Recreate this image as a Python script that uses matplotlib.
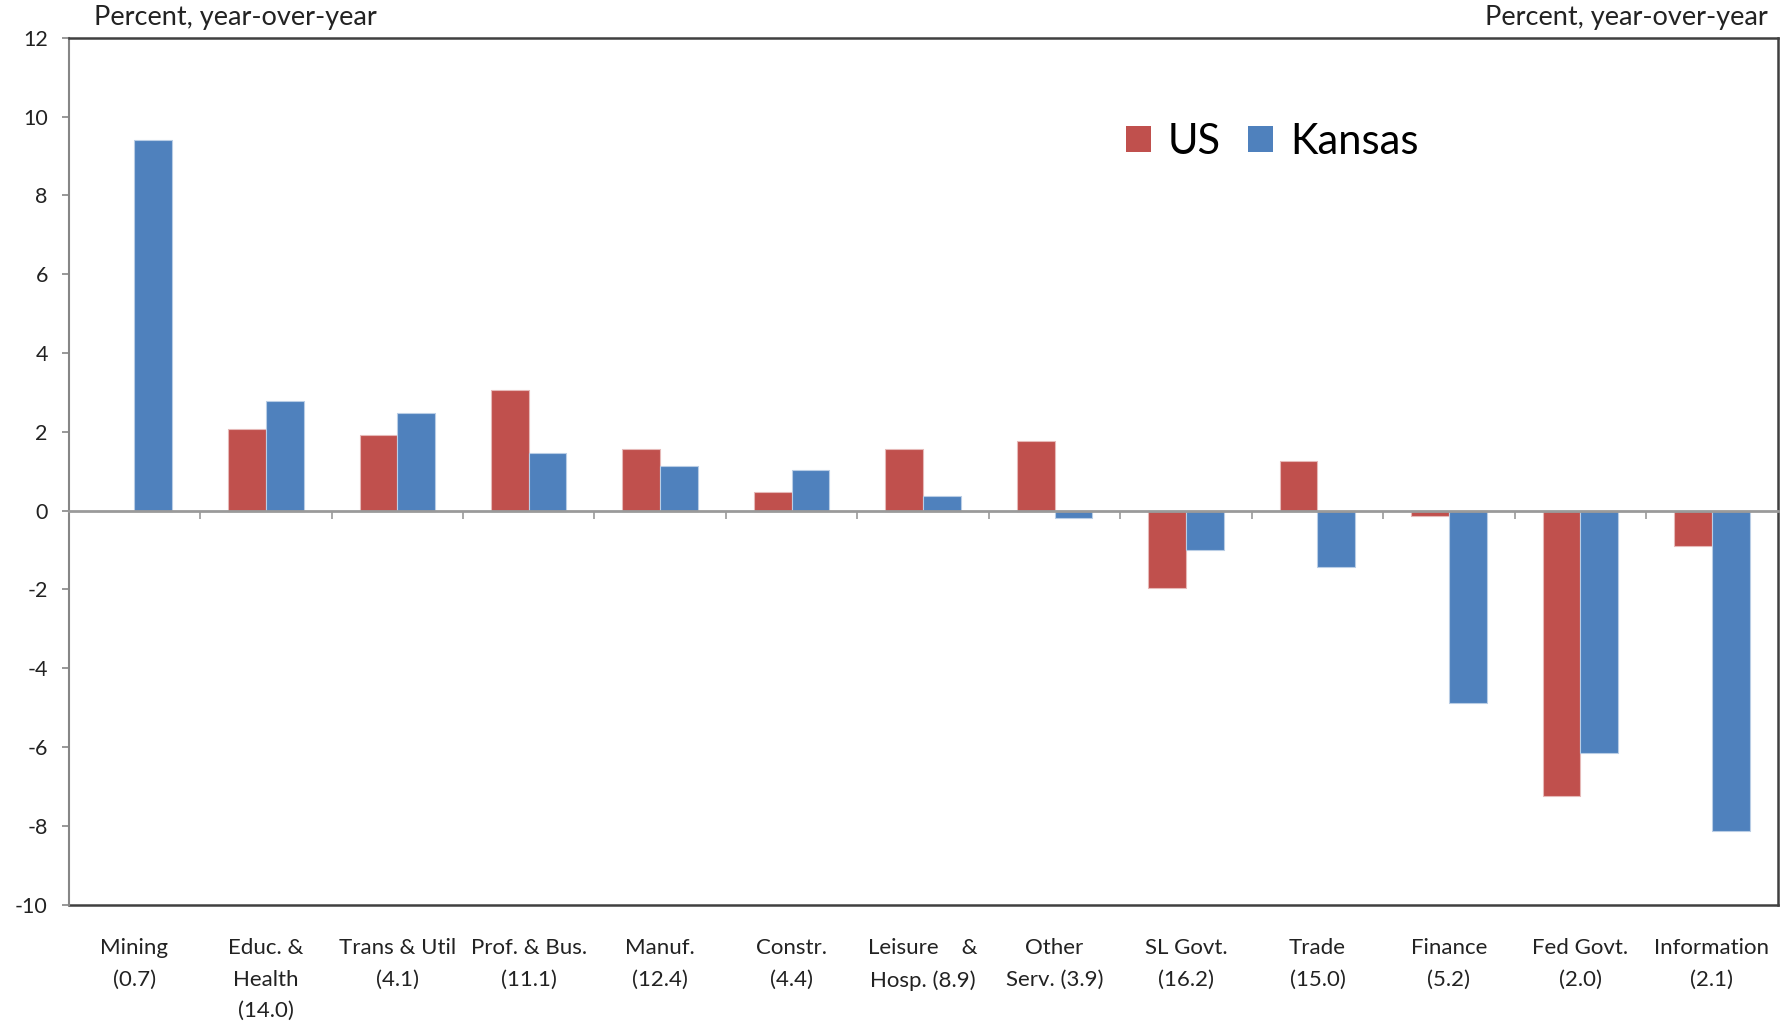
import matplotlib
matplotlib.use("Agg")
import matplotlib.pyplot as plt
import numpy as np
from matplotlib.patches import Patch

plt.rcParams['font.family'] = ['Lato', 'DejaVu Sans']

categories = ["Mining\n(0.7)", "Educ. &\nHealth\n(14.0)", "Trans & Util\n(4.1)",
              "Prof. & Bus.\n(11.1)", "Manuf.\n(12.4)", "Constr.\n(4.4)",
              "Leisure    &\nHosp. (8.9)", "Other\nServ. (3.9)", "SL Govt.\n(16.2)",
              "Trade\n(15.0)", "Finance\n(5.2)", "Fed Govt.\n(2.0)", "Information\n(2.1)"]
us = [0.0, 2.07, 1.92, 3.07, 1.57, 0.46, 1.57, 1.77, -1.97, 1.27, -0.13, -7.24, -0.9]
kansas = [9.4, 2.78, 2.47, 1.47, 1.12, 1.02, 0.37, -0.18, -0.99, -1.42, -4.87, -6.16, -8.14]
yticks = [-10, -8, -6, -4, -2, 0, 2, 4, 6, 8, 10, 12]
axis_label = "Percent, year-over-year"

red = "#C0504D"
blue = "#4F81BD"

fig = plt.figure(figsize=(17.91, 10.25), dpi=100)
ax = fig.add_axes([0.0383, 0.1174, 0.9542, 0.8458])

x = np.arange(len(categories))
w = 0.287
ax.bar(x - w / 2, us, width=w, color=red, edgecolor="#E6B9B8", linewidth=0.8, zorder=2)
ax.bar(x + w / 2, kansas, width=w, color=blue, edgecolor="#B9CDE5", linewidth=0.8, zorder=2)

ax.set_xlim(-0.5, len(categories) - 0.5)
ax.set_ylim(-10, 12)
ax.set_yticks(yticks)
ax.set_yticklabels([str(v) for v in yticks], fontsize=15.5, color="#222222")
ax.tick_params(axis='y', direction='out', length=5, width=1.2, color="#868686", pad=10)

# zero axis with boundary ticks
ax.spines['bottom'].set_position(('data', 0))
ax.spines['bottom'].set_color("#9A9A9A")
ax.spines['bottom'].set_linewidth(2)
ax.spines['bottom'].set_zorder(3)
ax.set_xticks(np.arange(0.5, len(categories) - 0.5, 1.0))
ax.set_xticklabels([])
ax.tick_params(axis='x', direction='out', length=6, width=1.2, color="#9A9A9A")

ax.spines['left'].set_color("#868686")
ax.spines['left'].set_linewidth(1.5)
for s in ['top', 'right']:
    ax.spines[s].set_color("#404040")
    ax.spines[s].set_linewidth(1.8)

sec = ax.secondary_xaxis('bottom')
sec.set_xticks(x)
sec.set_xticklabels(categories, fontsize=16, color="#222222", linespacing=1.72)
sec.tick_params(axis='x', length=0, pad=24)
sec.spines['bottom'].set_color("#404040")
sec.spines['bottom'].set_linewidth(1.8)

fig.text(93.7 / 1791, 1 - 18 / 1025, axis_label, fontsize=19.5, ha='left', va='center', color="#222222")
fig.text(1768 / 1791, 1 - 18 / 1025, axis_label, fontsize=19.5, ha='right', va='center', color="#222222")

handles = [Patch(facecolor=red, edgecolor="none"), Patch(facecolor=blue, edgecolor="none")]
ax.legend(handles, ["US", "Kansas"], loc='center left', bbox_to_anchor=(0.619, 0.880),
          ncol=2, frameon=False, fontsize=30, handlelength=0.6, handleheight=0.6,
          handletextpad=0.4, columnspacing=0.65, borderpad=0, borderaxespad=0)

fig.savefig("out.png", dpi=100, facecolor="white")
